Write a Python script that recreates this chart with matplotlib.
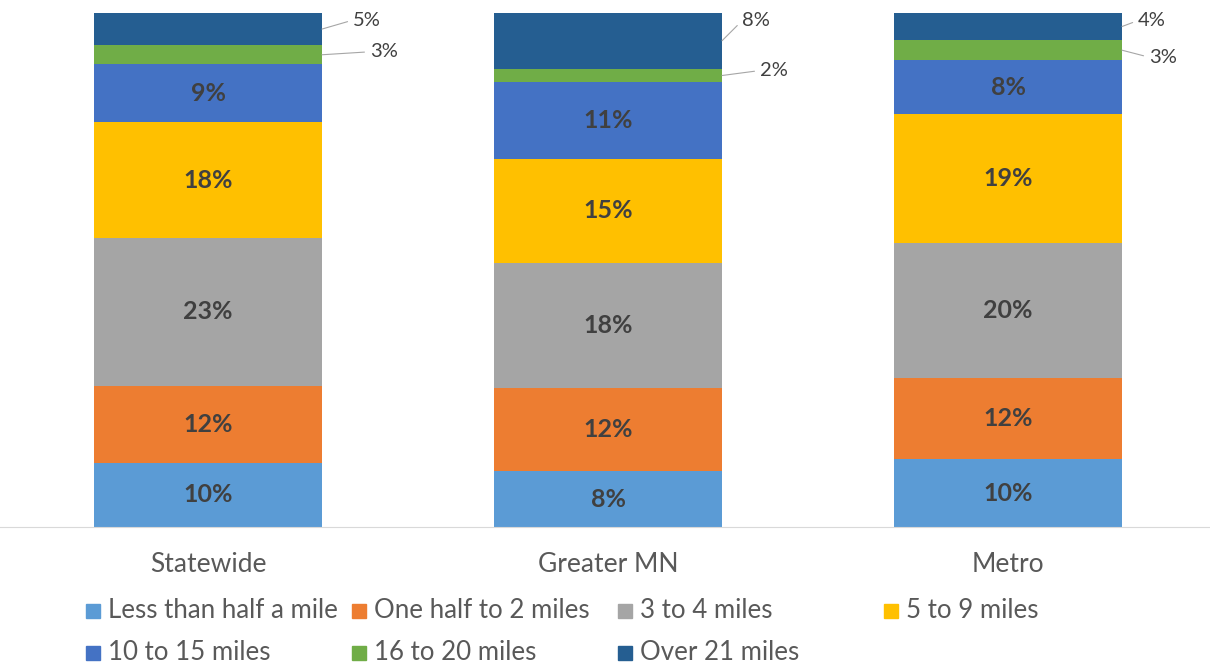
import numpy as np
import matplotlib.pyplot as plt
from matplotlib.patches import Rectangle

plt.rcParams['font.family'] = ['Lato', 'DejaVu Sans']

regions = ['Statewide', 'Greater MN', 'Metro']
distances = ['Less than half a mile', 'One half to 2 miles', '3 to 4 miles',
             '5 to 9 miles', '10 to 15 miles', '16 to 20 miles', 'Over 21 miles']

less_half = [10, 8, 10]
half_to_2 = [12, 12, 12]
three_4 = [23, 18, 20]
five_9 = [18, 15, 19]
ten_15 = [9, 11, 8]
sixteen_20 = [3, 2, 3]
over_21 = [5, 8, 4]

colors = ['#5B9BD5', '#ED7D31', '#A5A5A5', '#FFC000', '#4472C4', '#70AD47', '#255E91']

values = np.array([less_half, half_to_2, three_4, five_9, ten_15, sixteen_20, over_21], dtype=float)
shares = values / values.sum(axis=0)   # 100% stacked

# small segments get their label outside with a leader line (pixel offsets)
outside = {
    (0, 6): (31, -9), (0, 5): (48, -3),
    (1, 6): (20, -20), (1, 5): (38, -5),
    (2, 6): (16, -6), (2, 5): (27, 7),
}

fig = plt.figure(figsize=(12.1, 6.65), dpi=100)
ax = fig.add_axes([0, (665 - 527) / 665, 1, 514 / 665])

x = np.arange(len(regions))
w = 0.57
bottom = np.zeros(len(regions))
for s in range(len(distances)):
    ax.bar(x, shares[s], w, bottom=bottom, color=colors[s], edgecolor='none')
    for i in range(len(regions)):
        mid = bottom[i] + shares[s][i] / 2
        label = '%d%%' % values[s][i]
        if (i, s) in outside:
            dx, dy = outside[(i, s)]
            ax.annotate(label, xy=(x[i] + w / 2, mid),
                        xytext=(x[i] + w / 2 + dx / 400, mid - dy / 514),
                        ha='left', va='center', fontsize=14.5, color='#404040',
                        arrowprops=dict(arrowstyle='-', color='#A6A6A6', lw=0.8,
                                        shrinkA=2, shrinkB=0, relpos=(0, 0.5)))
        else:
            ax.text(x[i], mid, label, ha='center', va='center', fontsize=18,
                    fontweight='bold', color='#404040')
    bottom += shares[s]

ax.set_xlim(-208 / 400, (1210 - 208) / 400)
ax.set_ylim(0, 1)
ax.set_yticks([])
ax.set_xticks(x)
ax.set_xticklabels(regions, fontsize=19, color='#595959')
ax.tick_params(axis='x', length=0, pad=18)
for side in ['left', 'right', 'top']:
    ax.spines[side].set_visible(False)
ax.spines['bottom'].set_color('#D9D9D9')

# legend laid out in four even columns, two rows
for s, name in enumerate(distances):
    row, col = divmod(s, 4)
    px = 86 + 266 * col
    py = 611 + 42 * row
    fig.patches.append(Rectangle((px / 1210, 1 - (py + 7) / 665), 14 / 1210, 14 / 665,
                                 transform=fig.transFigure, color=colors[s]))
    fig.text((px + 22) / 1210, 1 - py / 665, name, ha='left', va='center',
             fontsize=18.6, color='#595959')

fig.savefig('out.png', dpi=100)
